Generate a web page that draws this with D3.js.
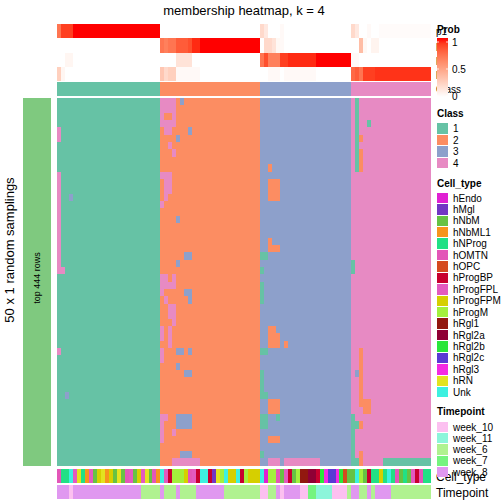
<!DOCTYPE html>
<html><head><meta charset="utf-8">
<script src="https://cdn.jsdelivr.net/npm/d3@7"></script>
<style>body{margin:0;background:#fff}svg{display:block;font-family:"Liberation Sans",Arial,sans-serif}</style>
</head><body><svg id="c" width="504" height="504"></svg>
<script>
// ---------- data ----------
const classNames = ["1","2","3","4"];
const classColors = ["#66C2A5","#FC8D62","#8DA0CB","#E78AC3"];
// class of each of the 94 columns
const columnClass = [
1,1,1,1,1,1,1,1,1,1,1,1,1,1,1,1,1,1,1,1,1,1,1,1,1,1,
2,2,2,2,2,2,2,2,2,2,2,2,2,2,2,2,2,2,2,2,2,2,2,2,2,
3,3,3,3,3,3,3,3,3,3,3,3,3,3,3,3,3,3,3,3,3,3,3,
4,4,4,4,4,4,4,4,4,4,4,4,4,4,4,4,4,4,4,4];
const nRows = 50;
// sampling cells that differ from the column class: [rowFrom, rowTo, colFrom, colTo, class]
const cellOverrides = [
[4,5,0,0,4],[10,22,0,0,4],[23,23,0,1,4],[13,13,3,3,3],[34,34,0,0,4],[40,40,2,2,3],
[0,1,26,29,4],[0,0,31,31,3],[2,2,26,26,4],[2,2,29,29,4],[3,3,26,29,4],
[4,4,27,28,4],[4,4,33,33,3],[5,5,30,30,3],[6,6,28,28,4],[7,7,29,29,4],
[10,10,26,28,4],[11,12,27,28,4],[13,13,27,27,4],[14,14,26,26,4],[16,16,30,30,3],
[21,21,32,33,3],[22,22,30,30,3],[24,24,26,27,4],[24,24,29,29,4],[25,25,26,29,4],
[26,26,26,26,4],[26,26,32,33,3],[27,27,27,27,4],[27,27,33,33,3],[28,29,28,29,4],
[30,30,29,29,4],[31,33,28,28,4],[31,32,26,26,4],[34,35,26,26,4],[34,34,30,31,3],
[34,34,33,33,3],[36,36,30,30,3],[37,37,32,33,3],[43,43,26,27,4],[43,44,30,33,3],
[44,46,26,26,4],[45,45,29,29,4],[48,48,31,33,3],[49,49,29,35,4],
[9,9,53,53,2],[11,13,53,55,2],[19,19,53,53,2],[20,20,53,55,2],[21,21,51,52,1],
[23,23,51,51,1],[25,27,51,51,1],[31,31,53,54,2],[32,33,53,55,2],[33,33,57,57,2],
[34,34,51,52,1],[37,40,51,51,1],[40,40,52,52,1],[41,42,53,55,2],[43,44,51,52,1],
[43,43,55,55,1],[46,46,53,55,2],[48,48,51,51,1],[49,49,53,55,4],[49,49,57,65,4],
[0,9,75,75,1],[3,3,78,78,1],[5,5,76,76,2],[7,9,76,76,2],[22,23,74,74,1],
[34,41,76,76,2],[41,42,77,78,2],[37,37,75,75,3],[43,49,74,74,1],[44,44,75,75,1],
[44,44,76,76,2],[48,49,76,76,2],[49,49,75,75,1],[49,49,82,93,1]];
// membership probabilities p1..p4 for each column
const p1 = [0.7,0.9,0.9,0.9,1,1,1,1,1,1,1,1,1,1,1,1,1,1,1,1,1,1,1,1,1,1,
0,0,0,0,0,0,0,0,0,0,0,0,0,0,0,0,0,0,0,0,0,0,0,0,0,
0.2,0.12,0,0,0,0.03,0,0,0,0,0,0,0,0,0,0,0,0,0,0,0,0,0,
0.2,0.12,0,0,0.03,0,0,0.02,0.02,0.02,0.02,0.02,0.02,0.02,0.02,0.02,0.02,0.02,0.02,0.02];
const p2 = [0,0,0,0,0,0,0,0,0,0,0,0,0,0,0,0,0,0,0,0,0,0,0,0,0,0,
0.7,0.65,0.7,0.7,0.8,0.8,0.8,0.85,0.95,0.95,1,1,1,1,1,1,1,1,1,1,1,1,1,1,1,
0,0.2,0.2,0.15,0.04,0.03,0,0,0,0,0,0,0,0,0,0,0,0,0,0,0,0,0,
0,0,0.35,0.04,0,0.06,0.06,0,0,0,0,0,0,0,0,0,0,0,0,0];
const p3 = [0,0,0.05,0.05,0,0,0,0,0,0,0,0,0,0,0,0,0,0,0,0,0,0,0,0,0,0,
0,0,0,0,0.15,0.15,0.15,0.15,0,0,0,0,0,0,0,0,0,0,0,0,0,0,0,0,0,
0.7,0.85,0.65,0.65,0.65,0.9,0.9,0.95,0.95,0.95,0.95,0.95,0.95,0.95,1,1,1,1,1,1,1,1,1,
0.03,0.03,0,0,0,0,0,0,0,0,0,0,0,0,0,0,0,0,0,0];
const p4 = [0.25,0.05,0,0,0,0,0,0,0,0,0,0,0,0,0,0,0,0,0,0,0,0,0,0,0,0,
0.3,0.2,0.25,0.25,0.03,0.03,0.03,0.03,0.03,0.03,0,0,0,0,0,0,0,0,0,0,0,0,0,0,0,
0,0,0.03,0.03,0.03,0,0.03,0.03,0.03,0.03,0.03,0.03,0.03,0.03,0,0,0,0,0,0,0,0,0,
0.75,0.8,0.7,0.9,0.9,0.9,0.93,0.93,0.93,0.93,0.93,0.93,0.93,0.93,0.93,0.93,0.93,0.93,0.93,0.93];
const probNames = ["p1","p2","p3","p4"];
const cellTypeNames = ["hEndo","hMgl","hNbM","hNbML1","hNProg","hOMTN","hOPC","hProgBP","hProgFPL","hProgFPM","hProgM","hRgl1","hRgl2a","hRgl2b","hRgl2c","hRgl3","hRN","Unk"];
const cellTypeColors = ["#E020D2","#7236C4","#66C244","#F7941D","#22E085","#E356B8","#D54A1F","#C8002F","#E35ABF","#D6CF00","#A3F03C","#92180F","#8F0035","#2BE63A","#5A3AD4","#F42AE2","#E3E31F","#3DF0E0"];
const cellType = ["hOMTN","hNProg","hNProg","Unk","hProgFPL","hRN","hNProg","hNbML1","hProgFPL","hNbM",
"hProgFPM","hRN","hNbML1","hProgFPM","hNbM","hRN","hNbM","hOMTN","hProgFPL","hNbM",
"hProgFPM","hProgFPL","hRN","hNbM","hOMTN","hNbML1","Unk","hProgFPL","hProgBP","hProgM",
"hProgM","hProgM","hProgFPM","hOMTN","hProgFPL","hProgBP","Unk","Unk","hProgBP","hMgl",
"hRN","hProgM","Unk","hProgFPM","hProgFPM","Unk","hProgBP","hProgM","hProgFPM","hProgFPM",
"hProgFPM","Unk","hEndo","hProgM","hProgM","hOMTN","hNbM","hProgFPL","hProgBP","hNbM",
"hProgM","hRgl1","hRgl1","hRgl2a","hRgl2a","hProgBP","hRgl2b","hRgl3","hRgl2c","hRgl2c",
"hRgl3","hRgl2b","hOPC","hNbM","hNbM","Unk","hProgM","hNbM","hProgBP","hNProg",
"hNProg","hProgFPM","hNProg","Unk","hNProg","hOMTN","hNbM","hNProg","hNbM","hProgFPL",
"hProgBP","hOMTN","hNProg","hNProg"];
const timeNames = ["week_10","week_11","week_6","week_7","week_8"];
const timeColors = ["#FCC0F0","#8CF5DA","#B0F290","#75F47F","#E098F0"];
const timepoint = ["week_8","week_8","week_8","week_10","week_8","week_8","week_8","week_8","week_8","week_8",
"week_8","week_8","week_8","week_8","week_8","week_8","week_8","week_8","week_8","week_8",
"week_8","week_6","week_6","week_6","week_6","week_6","week_8","week_6","week_6","week_6",
"week_8","week_6","week_6","week_6","week_6","week_8","week_8","week_8","week_8","week_8",
"week_8","week_8","week_6","week_6","week_6","week_6","week_6","week_6","week_6","week_6",
"week_6","week_10","week_10","week_6","week_6","week_8","week_10","week_8","week_8","week_8",
"week_8","week_10","week_10","week_7","week_7","week_11","week_11","week_11","week_11","week_10",
"week_10","week_10","week_10","week_6","week_8","week_8","week_6","week_6","week_8","week_6",
"week_8","week_8","week_8","week_8","week_6","week_6","week_6","week_6","week_6","week_6",
"week_6","week_6","week_6","week_6"];

// ---------- drawing ----------
const svg = d3.select("#c");
svg.append("rect").attr("width",504).attr("height",504).attr("fill","#fff");
const nCols = columnClass.length;
const cols = d3.range(nCols);
const x = d3.scaleBand().domain(cols).range([57,431]).paddingInner(0);
const y = d3.scaleBand().domain(d3.range(nRows)).range([98,465.5]);
const clsColor = d3.scaleOrdinal().domain([1,2,3,4]).range(classColors);
const probColor = d3.scaleLinear().domain([0,1]).range(["#FFFFFF","#FF0000"]).interpolate(d3.interpolateLab);
const ctColor = d3.scaleOrdinal().domain(cellTypeNames).range(cellTypeColors);
const tpColor = d3.scaleOrdinal().domain(timeNames).range(timeColors);

// matrix
const matrix = d3.range(nRows).map(() => columnClass.slice());
cellOverrides.forEach(([r0,r1,c0,c1,k]) => {
  for (let r=r0;r<=r1;r++) for (let c=c0;c<=c1;c++) matrix[r][c]=k;
});
const g = svg.append("g").attr("shape-rendering","crispEdges");

// top annotation: probabilities
const probs = [p1,p2,p3,p4];
const yTop = d3.scaleBand().domain(d3.range(4)).range([24,81]);
probs.forEach((arr,i) => {
  g.selectAll(null).data(arr).join("rect")
    .attr("x",(d,j)=>x(j)).attr("width",x.bandwidth()+0.3)
    .attr("y",yTop(i)).attr("height",yTop.bandwidth()+0.3)
    .attr("fill",d=>probColor(d));
});
// class annotation
g.selectAll(null).data(columnClass).join("rect")
  .attr("x",(d,j)=>x(j)).attr("width",x.bandwidth()+0.3)
  .attr("y",82).attr("height",14).attr("fill",d=>clsColor(d));

// body
matrix.forEach((row,r) => {
  g.selectAll(null).data(row).join("rect")
    .attr("x",(d,j)=>x(j)).attr("width",x.bandwidth()+0.3)
    .attr("y",y(r)).attr("height",y.bandwidth()+0.3)
    .attr("fill",d=>clsColor(d));
});
// bottom annotations
g.selectAll(null).data(cellType).join("rect")
  .attr("x",(d,j)=>x(j)).attr("width",x.bandwidth()+0.3)
  .attr("y",469).attr("height",14).attr("fill",d=>ctColor(d));
g.selectAll(null).data(timepoint).join("rect")
  .attr("x",(d,j)=>x(j)).attr("width",x.bandwidth()+0.3)
  .attr("y",484.5).attr("height",14.5).attr("fill",d=>tpColor(d));

// left row-split bar
g.append("rect").attr("x",23).attr("y",98).attr("width",28).attr("height",367.5).attr("fill","#7FC97F");
svg.append("text").attr("transform","translate(40,278) rotate(-90)")
  .attr("text-anchor","middle").attr("font-size",9).text("top 444 rows");
svg.append("text").attr("transform","translate(14,250) rotate(-90)")
  .attr("text-anchor","middle").attr("font-size",13).text("50 x 1 random samplings");

// title
svg.append("text").attr("x",244).attr("y",15).attr("text-anchor","middle")
  .attr("font-size",13).text("membership heatmap, k = 4");

// annotation names (right)
probNames.forEach((n,i)=>{
  svg.append("text").attr("x",436).attr("y",yTop(i)+yTop.bandwidth()/2+3.5).attr("font-size",10).text(n);
});
svg.append("text").attr("x",436).attr("y",92.5).attr("font-size",10).text("Class");
svg.append("text").attr("x",436).attr("y",480.5).attr("font-size",12).text("Cell_type");
svg.append("text").attr("x",436).attr("y",496.5).attr("font-size",12).text("Timepoint");

// legends
const lx = 437;
svg.append("text").attr("x",lx).attr("y",33).attr("font-size",10).attr("font-weight","bold").text("Prob");
const grad = svg.append("defs").append("linearGradient").attr("id","pg").attr("x1",0).attr("x2",0).attr("y1",1).attr("y2",0);
d3.range(0,1.0001,0.1).forEach(t=>grad.append("stop").attr("offset",t).attr("stop-color",probColor(t)));
const ly = d3.scaleLinear().domain([0,1]).range([96,42]);
svg.append("rect").attr("x",lx).attr("y",38).attr("width",11).attr("height",59).attr("fill","url(#pg)");
[0,0.5,1].forEach(v=>{
  svg.append("line").attr("x1",lx).attr("x2",lx+2).attr("y1",ly(v)).attr("y2",ly(v)).attr("stroke","#fff").attr("stroke-width",0.8);
  svg.append("line").attr("x1",lx+9).attr("x2",lx+11).attr("y1",ly(v)).attr("y2",ly(v)).attr("stroke","#fff").attr("stroke-width",0.8);
  svg.append("text").attr("x",lx+15).attr("y",ly(v)+3.5).attr("font-size",10).text(v);
});

function legend(title, names, colors, titleY, firstCenter, step){
  svg.append("text").attr("x",lx).attr("y",titleY).attr("font-size",10).attr("font-weight","bold").text(title);
  names.forEach((n,i)=>{
    const cy = firstCenter + i*step;
    svg.append("rect").attr("x",lx).attr("y",cy-step/2+0.5).attr("width",10.5).attr("height",step-1)
      .attr("fill",colors[i]).attr("shape-rendering","crispEdges");
    svg.append("text").attr("x",lx+16).attr("y",cy+3.5).attr("font-size",10).text(n);
  });
}
legend("Class", classNames, classColors, 117, 128.5, 11.5);
legend("Cell_type", cellTypeNames, cellTypeColors, 187, 198, 11.42);
legend("Timepoint", timeNames, timeColors, 415, 427, 11.25);
</script></body></html>
